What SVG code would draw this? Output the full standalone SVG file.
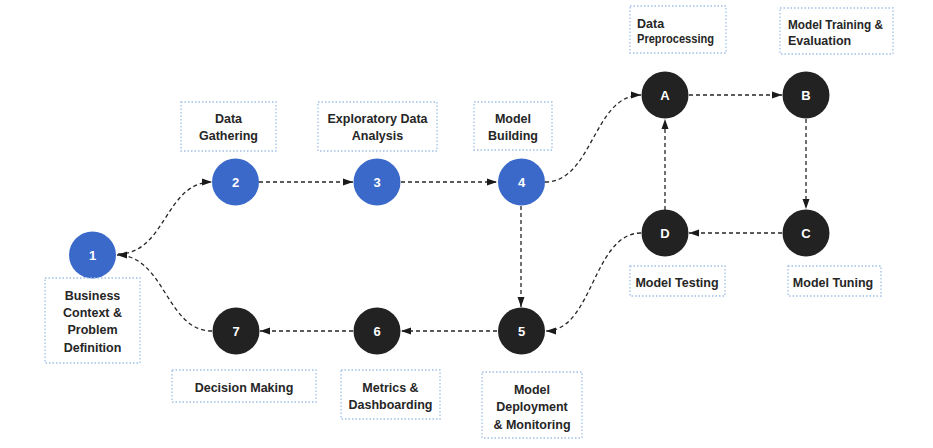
<svg xmlns="http://www.w3.org/2000/svg" width="933" height="448" viewBox="0 0 933 448">
<style>
.blue{fill:#3a69c9}
.dark{fill:#222222}
.num{font-family:"Liberation Sans",Arial,sans-serif;font-weight:bold;font-size:13px;fill:#ffffff;text-anchor:middle}
.lbl{font-family:"Liberation Sans",Arial,sans-serif;font-weight:bold;font-size:12.5px;fill:#262626;text-anchor:middle}
.lft{text-anchor:start}
.box{fill:none;stroke:#9fc0e8;stroke-width:1.3;stroke-dasharray:1.5 2}
.con{fill:none;stroke:#262626;stroke-width:1.3;stroke-dasharray:4 3;marker-end:url(#ah)}
</style>
<defs>
<marker id="ah" markerUnits="userSpaceOnUse" markerWidth="10" markerHeight="8" refX="10" refY="4" orient="auto">
<path d="M0,0.5 L10,4 L0,7.5 z" fill="#1a1a1a"/>
</marker>
</defs>
<rect width="933" height="448" fill="#ffffff"/>
<g id="connectors">
<path class="con" d="M118,254 C166,254 165,182 212,182"/>
<path class="con" d="M212,331 C166,331 165,255 117,255"/>
<path class="con" d="M259,182 L353,182"/>
<path class="con" d="M401,182 L497,182"/>
<path class="con" d="M545,182 C593,182 593,95 641,95"/>
<path class="con" d="M689,95 L782,95"/>
<path class="con" d="M806,119 L806,209"/>
<path class="con" d="M782,233 L689,233"/>
<path class="con" d="M665,210 L665,119"/>
<path class="con" d="M641,233 C593,233 593,331 546,331"/>
<path class="con" d="M521,206 L521,307"/>
<path class="con" d="M497,331 L401,331"/>
<path class="con" d="M353,331 L260,331"/>
</g>
<g id="node1">
<circle class="blue" cx="92.5" cy="255" r="23.5"/>
<text class="num" x="92.5" y="259.5">1</text>
<rect class="box" x="45" y="278" width="95" height="85"/>
<text class="lbl" x="92.5" y="299.5">Business</text>
<text class="lbl" x="92.5" y="316.5">Context &amp;</text>
<text class="lbl" x="92.5" y="334">Problem</text>
<text class="lbl" x="92.5" y="351.5">Definition</text>
</g>
<g id="node2">
<circle class="blue" cx="235.5" cy="182" r="23.5"/>
<text class="num" x="235.5" y="186.5">2</text>
<rect class="box" x="181" y="102" width="95" height="49"/>
<text class="lbl" x="228.5" y="122.5">Data</text>
<text class="lbl" x="228.5" y="139.5">Gathering</text>
</g>
<g id="node3">
<circle class="blue" cx="377" cy="182" r="23.5"/>
<text class="num" x="377" y="186.5">3</text>
<rect class="box" x="318" y="102" width="119" height="49"/>
<text class="lbl" x="377.5" y="122.5">Exploratory Data</text>
<text class="lbl" x="377.5" y="139.5">Analysis</text>
</g>
<g id="node4">
<circle class="blue" cx="521.5" cy="182" r="23.5"/>
<text class="num" x="521.5" y="186.5">4</text>
<rect class="box" x="474" y="102" width="78" height="48"/>
<text class="lbl" x="513" y="122.5">Model</text>
<text class="lbl" x="513" y="140">Building</text>
</g>
<g id="nodeA">
<circle class="dark" cx="665" cy="95" r="23.5"/>
<text class="num" x="665" y="99.5">A</text>
<rect class="box" x="630" y="6" width="96" height="47"/>
<text class="lbl lft" x="637" y="27.5">Data</text>
<text class="lbl lft" x="637" y="43" textLength="77" lengthAdjust="spacingAndGlyphs">Preprocessing</text>
</g>
<g id="nodeB">
<circle class="dark" cx="806" cy="95" r="23.5"/>
<text class="num" x="806" y="99.5">B</text>
<rect class="box" x="780" y="8" width="113" height="46"/>
<text class="lbl lft" x="788" y="28.5" textLength="95" lengthAdjust="spacingAndGlyphs">Model Training &amp;</text>
<text class="lbl lft" x="788" y="44.5">Evaluation</text>
</g>
<g id="nodeC">
<circle class="dark" cx="806" cy="233" r="23.5"/>
<text class="num" x="806" y="237.5">C</text>
<rect class="box" x="788" y="266" width="93" height="30"/>
<text class="lbl" x="833" y="286.5">Model Tuning</text>
</g>
<g id="nodeD">
<circle class="dark" cx="665" cy="233" r="23.5"/>
<text class="num" x="665" y="237.5">D</text>
<rect class="box" x="630" y="266" width="95" height="30"/>
<text class="lbl" x="677" y="286.5">Model Testing</text>
</g>
<g id="node5">
<circle class="dark" cx="521.5" cy="331" r="23.5"/>
<text class="num" x="521.5" y="335.5">5</text>
<rect class="box" x="482" y="372" width="100" height="66"/>
<text class="lbl" x="532" y="393.5">Model</text>
<text class="lbl" x="532" y="411">Deployment</text>
<text class="lbl" x="532" y="428.5">&amp; Monitoring</text>
</g>
<g id="node6">
<circle class="dark" cx="377" cy="331" r="23.5"/>
<text class="num" x="377" y="335.5">6</text>
<rect class="box" x="341" y="370" width="99" height="49"/>
<text class="lbl" x="390.5" y="391.5">Metrics &amp;</text>
<text class="lbl" x="390.5" y="408.5">Dashboarding</text>
</g>
<g id="node7">
<circle class="dark" cx="236" cy="331" r="23.5"/>
<text class="num" x="236" y="335.5">7</text>
<rect class="box" x="172" y="370" width="144" height="32"/>
<text class="lbl" x="244" y="391.5">Decision Making</text>
</g>
</svg>
